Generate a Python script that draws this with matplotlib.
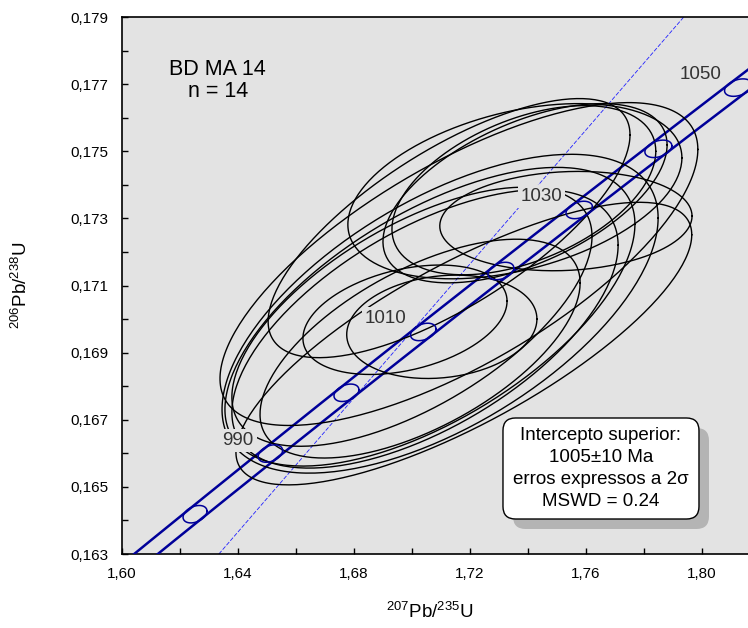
import numpy as np
import matplotlib
matplotlib.use('Agg')
from matplotlib import pyplot as plt
from matplotlib.patches import FancyBboxPatch
from matplotlib.ticker import FuncFormatter, MultipleLocator, FixedLocator

plt.rcParams['font.family'] = ['Liberation Sans', 'DejaVu Sans']
plt.rcParams['mathtext.fontset'] = 'custom'
plt.rcParams['mathtext.rm'] = 'Liberation Sans'

# Dados: razoes isotopicas (207Pb/235U, 206Pb/238U), erros 2 sigma e correlacao
pb207_u235 = [1.7179, 1.7162, 1.7097, 1.7062, 1.7045, 1.7000, 1.7028,
              1.7128, 1.6976, 1.7103, 1.7355, 1.7390, 1.7386, 1.7531]
err_207 = [0.0786, 0.0824, 0.0752, 0.0707, 0.0666, 0.0621, 0.0552,
           0.0624, 0.0352, 0.0328, 0.0576, 0.0490, 0.0455, 0.0435]
pb206_u238 = [0.16927, 0.17164, 0.17016, 0.17007, 0.16971, 0.17007, 0.16912,
              0.17271, 0.16998, 0.16977, 0.17381, 0.17375, 0.17384, 0.17292]
err_206 = [0.00421, 0.00481, 0.00475, 0.00445, 0.00415, 0.00386, 0.00326,
           0.00386, 0.00163, 0.00154, 0.00261, 0.00267, 0.00252, 0.00148]
rho = [0.77, 0.71, 0.60, 0.62, 0.60, 0.62, 0.60,
       0.72, 0.34, 0.15, 0.38, 0.54, 0.46, 0.10]

# Concordia
lambda238 = 1.55125e-10
lambda235 = 9.8485e-10
lambda_err = 0.00163   # banda de erro das constantes de decaimento
idades_marcas = [980, 990, 1000, 1010, 1020, 1030, 1040, 1050]
idades_rotulo = [990, 1010, 1030, 1050]
intercepto = 1005


def concordia(t_ma):
    t = np.asarray(t_ma) * 1e6
    return np.exp(lambda235 * t) - 1, np.exp(lambda238 * t) - 1


def elipse(x, sx, y, sy, r, n=240):
    th = np.linspace(0, 2 * np.pi, n)
    return x + sx * np.cos(th), y + sy * (r * np.cos(th) + np.sqrt(1 - r**2) * np.sin(th))


fig = plt.figure(figsize=(7.48, 6.28), dpi=100)
ax = fig.add_axes([0.1631, 0.1178, 0.8369, 0.8551])
ax.set_facecolor('#e3e3e3')
ax.set_xlim(1.60, 1.8159)
ax.set_ylim(0.163, 0.179)

azul = '#000099'

# banda da concordia
t = np.linspace(940, 1080, 300)
cx, cy = concordia(t)
dx = (t * 1e6) * lambda235 * (cx + 1) * lambda_err
ax.plot(cx - dx, cy, color=azul, lw=1.8, zorder=3)
ax.plot(cx + dx, cy, color=azul, lw=1.8, zorder=3)

# linha de discordia passando pela origem
xi, yi = concordia(intercepto)
xs = np.array([1.5, 1.9])
ax.plot(xs, xs * yi / xi, color='#2020ff', lw=0.6, ls=(0, (5, 2)), zorder=2)

# elipses dos dados
for i in range(len(pb207_u235)):
    ex, ey = elipse(pb207_u235[i], err_207[i], pb206_u238[i], err_206[i], rho[i])
    ax.plot(ex, ey, color='black', lw=1.0, zorder=4)

# marcas de idade
for a in idades_marcas:
    mx, my = concordia(a)
    mdx = (a * 1e6) * lambda235 * (mx + 1) * lambda_err
    ex, ey = elipse(mx, mdx, my, 0.00026, 0.35)
    ax.plot(ex, ey, color=azul, lw=1.1, zorder=5)

for a in idades_rotulo:
    mx, my = concordia(a)
    ax.annotate(str(a), (mx, my), xytext=(-12, 9.5), textcoords='offset points',
                ha='right', va='center', fontsize=13.5, color='#333333', zorder=6,
                bbox=dict(boxstyle='square,pad=0.15', fc='#e3e3e3', ec='none'))

# eixos
for s in ['left', 'bottom', 'top']:
    ax.spines[s].set_linewidth(1.2)
ax.spines['right'].set_visible(False)
ax.xaxis.set_major_locator(MultipleLocator(0.04))
ax.xaxis.set_minor_locator(MultipleLocator(0.02))
ax.yaxis.set_major_locator(FixedLocator(np.arange(0.163, 0.1795, 0.002)))
ax.yaxis.set_minor_locator(FixedLocator(np.arange(0.163, 0.1795, 0.001)))
ax.xaxis.set_major_formatter(FuncFormatter(lambda v, p: f'{v:.2f}'.replace('.', ',')))
ax.yaxis.set_major_formatter(FuncFormatter(lambda v, p: f'{v:.3f}'.replace('.', ',')))
ax.tick_params(which='both', direction='in', length=4, width=1.0, labelsize=11)
ax.tick_params(axis='y', pad=10)
ax.tick_params(axis='x', pad=9)

fig.text(0.575, 0.026, r'$^{207}$Pb/$^{235}$U', ha='center', va='center', fontsize=13.5)
fig.text(0.027, 0.546, r'$^{206}$Pb/$^{238}$U', ha='center', va='center', fontsize=13.5,
         rotation=90)

ax.text(0.153, 0.882, 'BD MA 14\nn = 14', transform=ax.transAxes, ha='center', va='center',
        fontsize=15.5, linespacing=1.1)

# caixa de texto com sombra
asp = 626 / 537
ax.add_patch(FancyBboxPatch((0.6246, 0.0466), 0.3131, 0.1881, transform=ax.transAxes,
                            boxstyle='round,pad=0,rounding_size=0.02', mutation_aspect=asp,
                            fc='#b4b4b4', ec='none', zorder=7))
ax.add_patch(FancyBboxPatch((0.6086, 0.0652), 0.3131, 0.1881, transform=ax.transAxes,
                            boxstyle='round,pad=0,rounding_size=0.02', mutation_aspect=asp,
                            fc='white', ec='black', lw=1.0, zorder=8))
ax.text(0.765, 0.159, 'Intercepto superior:\n1005±10 Ma\nerros expressos a 2σ\nMSWD = 0.24',
        transform=ax.transAxes, ha='center', va='center', fontsize=13.5, linespacing=1.38,
        zorder=9)

fig.savefig('out.png', dpi=100)
